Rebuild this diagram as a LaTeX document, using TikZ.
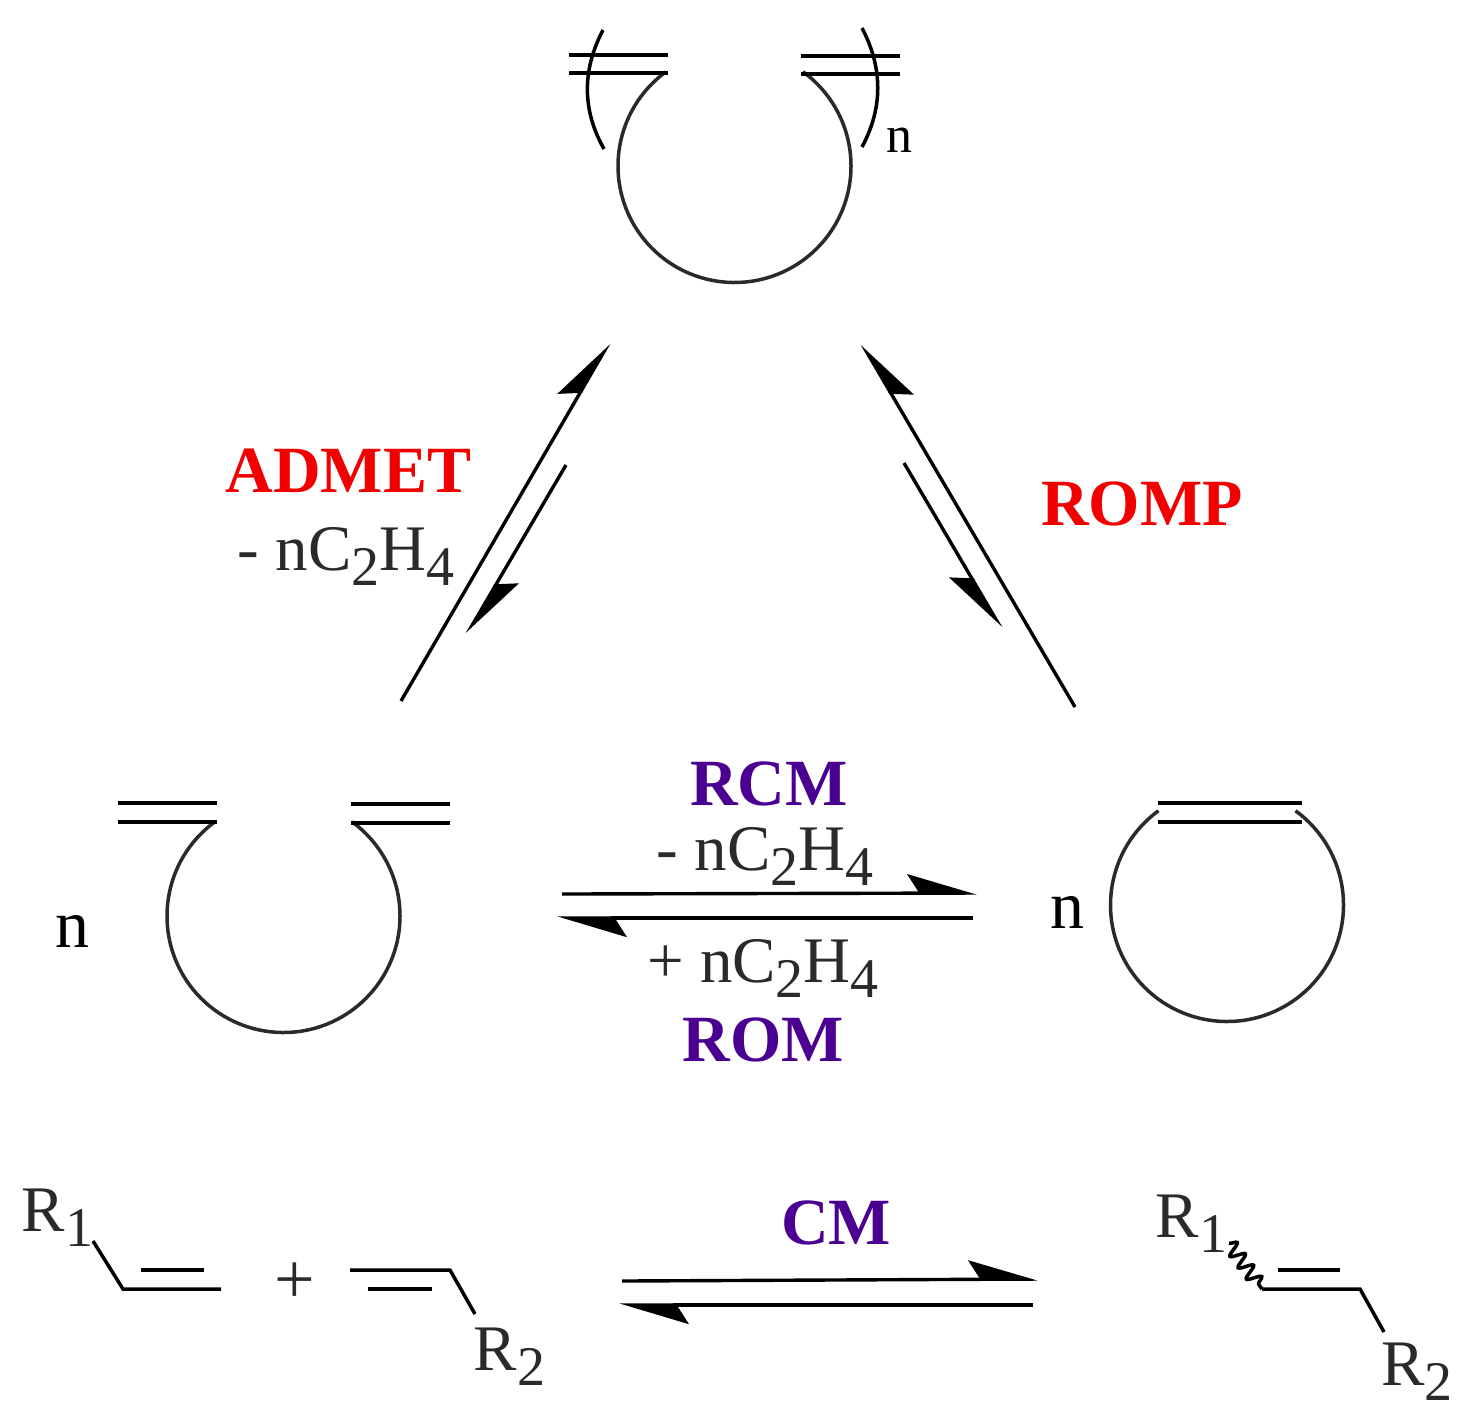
\documentclass[tikz,border=0pt]{standalone}
\usepackage{fontspec}
\setmainfont{Liberation Serif}
\usepackage{xcolor}
\usetikzlibrary{arrows.meta, decorations.pathmorphing}

\definecolor{inkgray}{HTML}{2B2A29}
\definecolor{romblue}{HTML}{4B0091}

\newcommand{\lowsub}[1]{\raisebox{-0.24em}{\fontsize{28}{28}\selectfont #1}}

\tikzset{
	bond/.style={line width=1.75pt, black},
	ring/.style={line width=1.75pt, inkgray},
	fwd/.style={line width=1.7pt, -{Stealth[harpoon, length=32pt, width=19pt, inset=6pt]}},
	fwdswap/.style={line width=1.7pt, -{Stealth[harpoon, swap, length=32pt, width=19pt, inset=6pt]}},
	plain/.style={inkgray, font=\fontsize{32.5}{32.5}\selectfont, anchor=base, inner sep=0pt},
	big/.style={black, font=\fontsize{34}{34}\selectfont, anchor=base, inner sep=0pt},
	redname/.style={red!95!black, font=\fontsize{33}{33}\selectfont\bfseries, anchor=base, inner sep=0pt},
	bluename/.style={romblue, font=\fontsize{33}{33}\selectfont\bfseries, anchor=base, inner sep=0pt}
}

\begin{document}
\begin{tikzpicture}[x=0.5pt, y=0.5pt]
	\def\rad{116.5};
	\useasboundingbox (0,0) rectangle (1476,-1420);

	% polymer
	\begin{scope}
		\draw[ring] (734.5,-166) ++(126:\rad) arc[start angle=126, end angle=414, radius=\rad*0.5pt];
		\draw[bond] (569,-55) -- (668,-55);
		\draw[bond] (569,-73) -- (668,-73);
		\draw[bond] (801,-56) -- (900,-56);
		\draw[bond] (801,-74) -- (900,-74);
		\draw[bond] (603,-30) .. controls (582,-70) and (582,-110) .. (604,-149);
		\draw[bond] (862,-28) .. controls (883,-68) and (883,-108) .. (862,-147);
		\node[big, font=\fontsize{26}{26}\selectfont] (nTop) at (899,-152) {n};
	\end{scope}

	% diene
	\begin{scope}
		\draw[ring] (283.5,-916) ++(126:\rad) arc[start angle=126, end angle=414, radius=\rad*0.5pt];
		\draw[bond] (118,-803) -- (217,-803);
		\draw[bond] (118,-822) -- (217,-822);
		\draw[bond] (351,-804) -- (450,-804);
		\draw[bond] (351,-823) -- (450,-823);
		\node[big] (nLeft) at (72,-947) {n};
	\end{scope}

	% cycloalkene
	\begin{scope}
		\draw[ring] (1227,-905) ++(126:\rad) arc[start angle=126, end angle=414, radius=\rad*0.5pt];
		\draw[bond] (1158,-803) -- (1302,-803);
		\draw[bond] (1158,-822) -- (1302,-822);
		\node[big] (nRight) at (1067,-928) {n};
	\end{scope}

	% labels
	\node[redname] (admet) at (348.5,-492) {ADMET};
	\node[plain] (lossA) at (346,-570) {- nC\lowsub{2}H\lowsub{4}};
	\node[redname] (romp) at (1142,-525) {ROMP};
	\node[bluename] (rcm) at (769,-805) {RCM};
	\node[plain] (lossB) at (765,-870) {- nC\lowsub{2}H\lowsub{4}};
	\node[plain] (gain) at (763,-982) {+ nC\lowsub{2}H\lowsub{4}};
	\node[bluename] (rom) at (763.5,-1061) {ROM};
	\node[bluename] (cm) at (836,-1244) {CM};

	% arrow ends
	\coordinate (a1) at (401,-701);
	\coordinate (a2) at (609,-343);
	\coordinate (a3) at (566,-465);
	\coordinate (a4) at (467,-634);
	\coordinate (b1) at (1075,-707);
	\coordinate (b2) at (862,-344);
	\coordinate (b3) at (904,-463);
	\coordinate (b4) at (1001,-628);
	\coordinate (c1) at (562,-894);
	\coordinate (c2) at (977,-893);
	\coordinate (c3) at (973,-918);
	\coordinate (c4) at (557,-918);
	\coordinate (d1) at (622,-1281);
	\coordinate (d2) at (1038,-1279);
	\coordinate (d3) at (1033,-1305);
	\coordinate (d4) at (619,-1305);

	\draw[fwd] (a1) -- (a2);
	\draw[fwd] (a3) -- (a4);
	\draw[fwdswap] (b1) -- (b2);
	\draw[fwdswap] (b3) -- (b4);
	\draw[fwd] (c1) -- (c2);
	\draw[fwd] (c3) -- (c4);
	\draw[fwd] (d1) -- (d2);
	\draw[fwd] (d3) -- (d4);

	% cross metathesis
	\begin{scope}
		\node[plain] (rOneA) at (57.5,-1231) {R\lowsub{1}};
		\draw[bond] (93,-1241) -- (123,-1289) -- (221,-1289);
		\draw[bond] (141,-1270) -- (204,-1270);
		\node[plain, font=\fontsize{36}{36}\selectfont] (plus) at (294.5,-1303) {+};
		\draw[bond] (350,-1270) -- (450,-1270) -- (475,-1314);
		\draw[bond] (368,-1289) -- (432,-1289);
		\node[plain] (rTwoA) at (509.5,-1370) {R\lowsub{2}};

		\node[plain] (rOneB) at (1191.5,-1237) {R\lowsub{1}};
		\draw[bond, decorate, decoration={snake, segment length=7pt, amplitude=3.5pt}] (1229,-1243) -- (1262,-1289);
		\draw[bond] (1262,-1289) -- (1360,-1289) -- (1384,-1332);
		\draw[bond] (1278,-1270) -- (1340,-1270);
		\node[plain] (rTwoB) at (1417,-1385) {R\lowsub{2}};
	\end{scope}
\end{tikzpicture}
\end{document}
